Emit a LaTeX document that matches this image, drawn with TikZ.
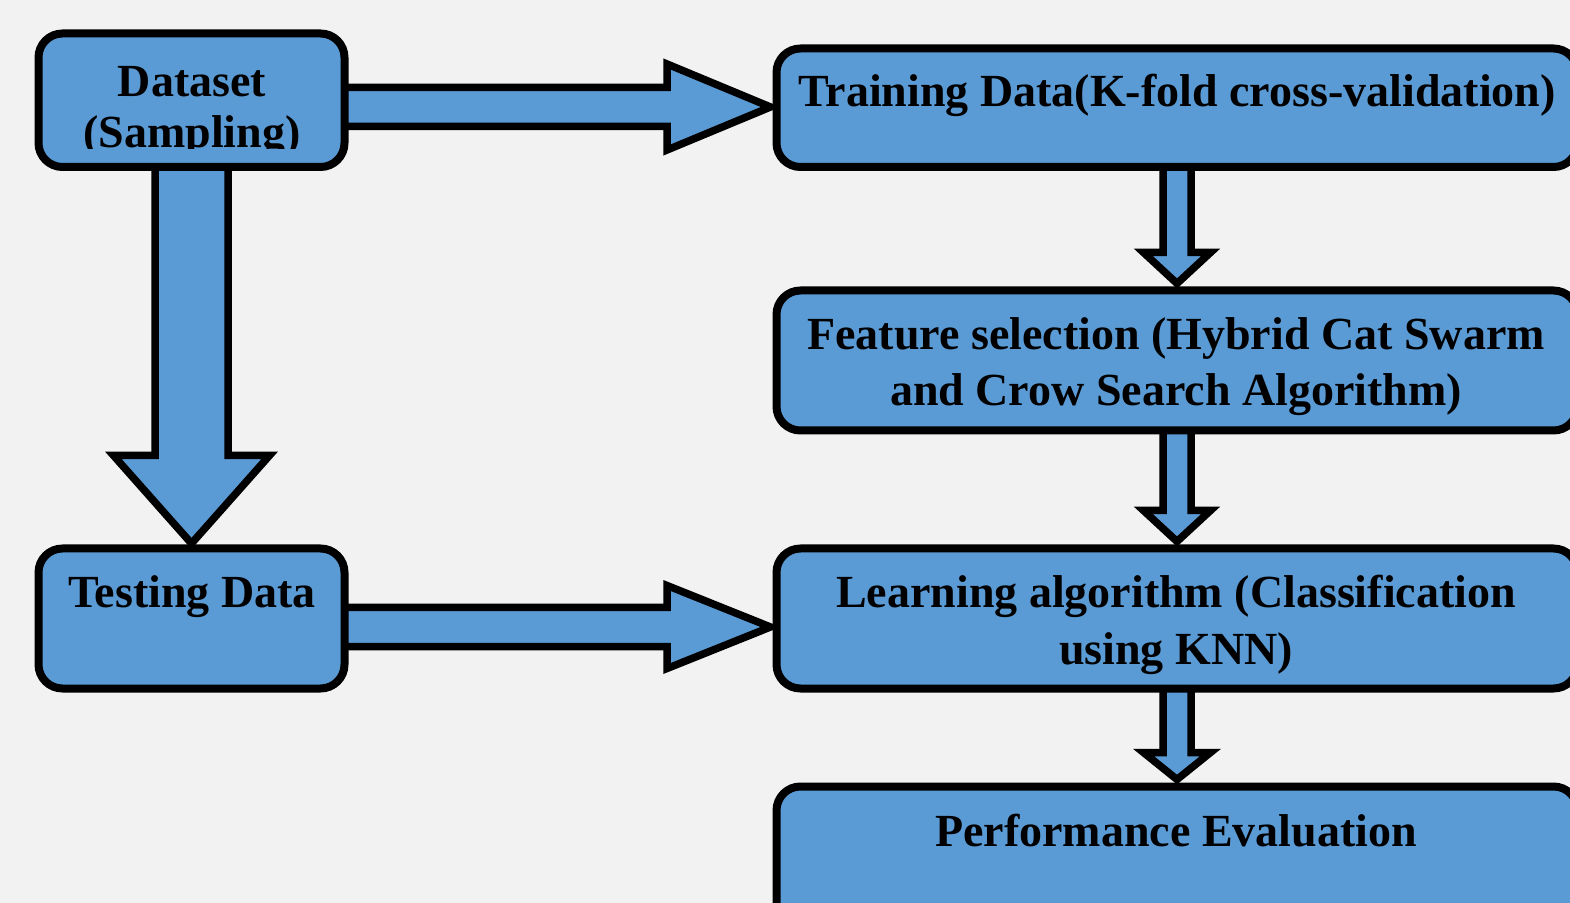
\documentclass[tikz,border=0pt]{standalone}
\usepackage{fontspec}
\setmainfont{Liberation Serif}
\usetikzlibrary{calc}
\definecolor{boxblue}{HTML}{5B9BD5}
\definecolor{pagebg}{HTML}{F2F2F2}
\pgfdeclarelayer{backdrop}
\pgfdeclarelayer{arrows}
\pgfsetlayers{backdrop,arrows,main}
\tikzset{
  box/.style={draw=black, fill=boxblue, line width=4pt, rounded corners=12pt, inner sep=0pt, outer sep=0pt},
  barrow/.style={draw=black, fill=boxblue, line width=3.75pt, line join=miter, miter limit=20},
  lbl/.style={font=\fontsize{23}{28}\selectfont\bfseries, inner sep=0pt, outer sep=0pt, anchor=base},
}
\newcommand\VArrow[5]{\draw[barrow] ($(#1)+(-#3,0)$) -- ($(#2)+(-#3,-#5)$) -- ($(#2)+(-#4,-#5)$) -- (#2) -- ($(#2)+(#4,-#5)$) -- ($(#2)+(#3,-#5)$) -- ($(#1)+(#3,0)$) -- cycle;}
\newcommand\HArrow[5]{\draw[barrow] ($(#1)+(0,-#3)$) -- ($(#2)+(-#5,-#3)$) -- ($(#2)+(-#5,-#4)$) -- (#2) -- ($(#2)+(-#5,#4)$) -- ($(#2)+(-#5,#3)$) -- ($(#1)+(0,#3)$) -- cycle;}
\begin{document}
\begin{tikzpicture}[x=0.5pt,y=-0.5pt]
\begin{pgfonlayer}{backdrop}
\fill[pagebg] (0,0) rectangle (1570,903);
\end{pgfonlayer}
\useasboundingbox (0,0) rectangle (1570,903);
\clip (0,0) rectangle (1570,903);

% boxes
\node[box, minimum width=153pt, minimum height=66.75pt] (ds) at (191.5,100.25) {};
\node[box, minimum width=153pt, minimum height=70pt] (td) at (191.5,618.5) {};
\node[box, minimum width=400.5pt, minimum height=59.25pt] (tr) at (1177,107.75) {};
\node[box, minimum width=400.5pt, minimum height=70pt] (fs) at (1177,360.5) {};
\node[box, minimum width=400.5pt, minimum height=70pt] (la) at (1177,618.5) {};
\node[box, minimum width=400.5pt, minimum height=71.5pt] (pe) at (1177,858) {};

% labels
\node[lbl] (tds1) at (192,97) {Dataset};
\begin{scope}
\clip (0,0) rectangle (400,149);
\node[lbl] (tds2) at (192,148) {(Sampling)};
\end{scope}
\node[lbl] (ttr) at (1177,107) {Training Data(K-fold cross-validation)};
\node[lbl] (tfs1) at (1176,350) {Feature selection (Hybrid Cat Swarm};
\node[lbl] (tfs2) at (1176,406) {and Crow Search Algorithm)};
\node[lbl] (tla1) at (1176,608) {Learning algorithm (Classification};
\node[lbl] (tla2) at (1176,664) {using KNN)};
\node[lbl] (ttd) at (192,608) {Testing Data};
\node[lbl] (tpe) at (1176,846) {Performance Evaluation};

% block arrows
\begin{pgfonlayer}{arrows}
\coordinate (a1t) at ($(tr.west)+(-6,-0.75)$);
\coordinate (a1s) at ($(ds.east |- a1t)+(-10,0)$);
\HArrow{a1s}{a1t}{19.5}{43}{103.5}
\coordinate (a3t) at ($(la.west)+(-6,8.5)$);
\coordinate (a3s) at ($(td.east |- a3t)+(-10,0)$);
\HArrow{a3s}{a3t}{19.5}{41.5}{103.5}
\coordinate (a2s) at ($(ds.south)+(0,-10)$);
\coordinate (a2t) at ($(td.north)+(0,-5)$);
\VArrow{a2s}{a2t}{36.5}{78}{88}
\coordinate (a4s) at ($(tr.south)+(0,-10)$);
\coordinate (a4t) at ($(fs.north)+(0,-7)$);
\VArrow{a4s}{a4t}{14}{33.5}{31}
\coordinate (a5s) at ($(fs.south)+(0,-10)$);
\coordinate (a5t) at ($(la.north)+(0,-7)$);
\VArrow{a5s}{a5t}{14}{33.5}{31}
\coordinate (a6s) at ($(la.south)+(0,-10)$);
\coordinate (a6t) at ($(pe.north)+(0,-7)$);
\VArrow{a6s}{a6t}{14}{33.5}{27}
\end{pgfonlayer}
\end{tikzpicture}
\end{document}
